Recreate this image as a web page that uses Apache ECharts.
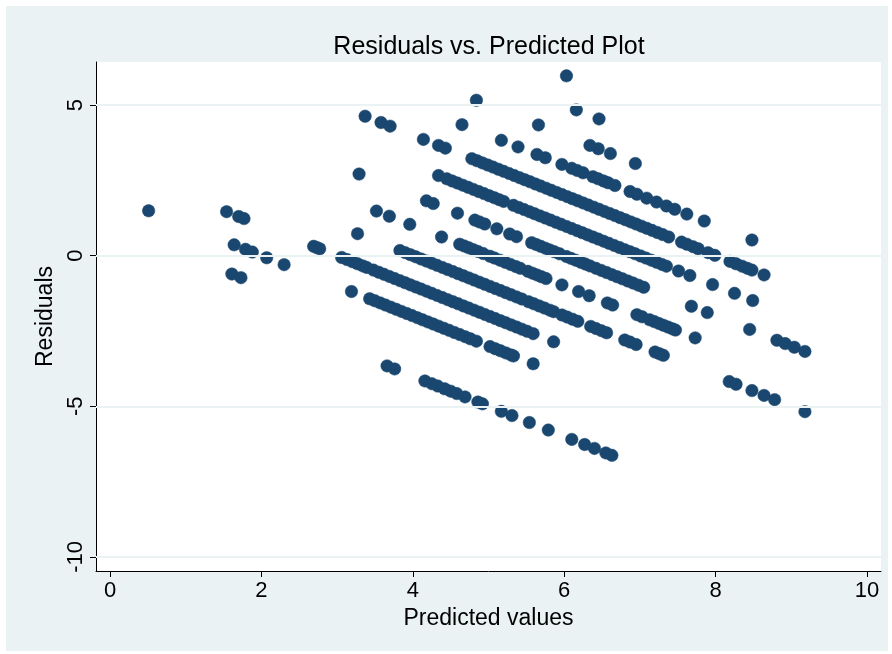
<!DOCTYPE html>
<html>
<head>
<meta charset="utf-8">
<script src="https://cdn.jsdelivr.net/npm/echarts@6/dist/echarts.min.js"></script>
<style>
  html, body { margin: 0; padding: 0; background: #ffffff; }
  #chart { width: 892px; height: 654px; }
</style>
</head>
<body>
<div id="chart"></div>
<script>
// ---- Data: [predicted value, residual] ----
const line0 = [[3.66,-3.66],[3.76,-3.76],[4.16,-4.16],[4.25,-4.25],[4.33,-4.33],[4.42,-4.42],[4.50,-4.50],[4.58,-4.58],[4.69,-4.69],[4.86,-4.86],[4.92,-4.92],[5.17,-5.17],[5.31,-5.31],[5.54,-5.54],[5.79,-5.79],[6.10,-6.10],[6.27,-6.27],[6.40,-6.40],[6.55,-6.55],[6.63,-6.63]];
const line1 = [[1.61,-0.61],[1.73,-0.73]];
const line2 = [[0.51,1.49],[1.64,0.36],[1.79,0.21],[1.88,0.12],[2.07,-0.07],[2.30,-0.30],[3.19,-1.19],
  [3.43,-1.43],[3.50,-1.50],[3.57,-1.57],[3.64,-1.64],[3.71,-1.71],[3.78,-1.78],[3.85,-1.85],[3.92,-1.92],[3.99,-1.99],[4.06,-2.06],[4.13,-2.13],[4.20,-2.20],[4.27,-2.27],[4.34,-2.34],[4.41,-2.41],[4.48,-2.48],[4.55,-2.55],[4.62,-2.62],[4.69,-2.69],[4.76,-2.76],[4.84,-2.84],
  [5.02,-3.02],[5.09,-3.09],[5.16,-3.16],[5.23,-3.23],[5.30,-3.30],[5.33,-3.33],[5.59,-3.59]];
const line3 = [[1.54,1.46],[1.70,1.30],[1.77,1.23],[2.69,0.31],[2.73,0.27],[2.77,0.23],
  [3.06,-0.06],[3.13,-0.13],[3.20,-0.20],[3.27,-0.27],[3.34,-0.34],[3.39,-0.39],
  [3.48,-0.48],[3.55,-0.55],[3.62,-0.62],[3.69,-0.69],[3.76,-0.76],[3.83,-0.83],[3.90,-0.90],[3.97,-0.97],[4.04,-1.04],[4.11,-1.11],[4.18,-1.18],[4.25,-1.25],[4.32,-1.32],[4.39,-1.39],[4.46,-1.46],[4.53,-1.53],[4.60,-1.60],[4.67,-1.67],[4.74,-1.74],[4.81,-1.81],[4.88,-1.88],[4.95,-1.95],[5.02,-2.02],[5.09,-2.09],[5.16,-2.16],[5.23,-2.23],[5.30,-2.30],[5.37,-2.37],[5.44,-2.44],[5.51,-2.51],[5.59,-2.59],
  [5.86,-2.86]];
const line4 = [[3.27,0.73],
  [3.83,0.17],[3.90,0.10],[3.97,0.03],[4.04,-0.04],[4.11,-0.11],[4.18,-0.18],[4.25,-0.25],[4.32,-0.32],[4.39,-0.39],[4.46,-0.46],[4.53,-0.53],[4.60,-0.60],[4.67,-0.67],[4.74,-0.74],[4.81,-0.81],[4.88,-0.88],[4.95,-0.95],[5.02,-1.02],[5.09,-1.09],[5.16,-1.16],[5.23,-1.23],[5.30,-1.30],[5.37,-1.37],[5.44,-1.44],
  [5.53,-1.53],[5.60,-1.60],[5.67,-1.67],[5.74,-1.74],[5.81,-1.81],[5.86,-1.86],
  [5.97,-1.97],[6.04,-2.04],[6.11,-2.11],[6.18,-2.18],
  [6.35,-2.35],[6.42,-2.42],[6.49,-2.49],[6.56,-2.56],
  [6.80,-2.80],[6.87,-2.87],[6.95,-2.95],
  [7.20,-3.20],[7.26,-3.26],[7.31,-3.31],
  [8.18,-4.18],[8.27,-4.27],[8.48,-4.48],[8.64,-4.64],[8.78,-4.78],[9.18,-5.18]];
const line5 = [[3.52,1.48],[3.69,1.31],[3.96,1.04],[4.38,0.62],
  [4.62,0.38],[4.68,0.32],[4.74,0.26],[4.80,0.20],[4.86,0.14],[4.93,0.07],
  [5.02,-0.02],[5.08,-0.08],[5.15,-0.15],[5.22,-0.22],[5.29,-0.29],[5.36,-0.36],[5.42,-0.42],
  [5.52,-0.52],[5.58,-0.58],[5.64,-0.64],[5.70,-0.70],[5.76,-0.76],
  [5.97,-0.97],[6.19,-1.19],[6.33,-1.33],[6.57,-1.57],[6.64,-1.64],[6.96,-1.96],[7.03,-2.03],
  [7.13,-2.13],[7.19,-2.19],[7.25,-2.25],[7.31,-2.31],[7.37,-2.37],[7.43,-2.43],[7.47,-2.47],
  [7.73,-2.73]];
const line6 = [[3.29,2.71],[4.18,1.82],[4.27,1.73],[4.59,1.41],[4.82,1.18],[4.88,1.12],[4.95,1.05],[5.11,0.89],[5.28,0.72],[5.37,0.63],
  [5.57,0.43],[5.63,0.37],[5.69,0.31],[5.75,0.25],[5.81,0.19],[5.87,0.13],[5.94,0.06],
  [6.03,-0.03],[6.09,-0.09],[6.15,-0.15],[6.22,-0.22],[6.28,-0.28],[6.34,-0.34],
  [6.42,-0.42],[6.49,-0.49],[6.56,-0.56],[6.63,-0.63],[6.70,-0.70],[6.77,-0.77],[6.84,-0.84],[6.91,-0.91],[6.98,-0.98],[7.05,-1.05],
  [7.68,-1.68],[7.89,-1.89],[8.45,-2.45],[8.81,-2.81],[8.92,-2.92],[9.04,-3.04],[9.18,-3.18]];
const line7 = [[4.34,2.66],
  [4.45,2.55],[4.52,2.48],[4.59,2.41],[4.66,2.34],[4.73,2.27],[4.80,2.20],[4.87,2.13],[4.94,2.06],[5.01,1.99],[5.08,1.92],[5.14,1.86],[5.20,1.80],
  [5.33,1.67],[5.40,1.60],[5.47,1.53],[5.54,1.46],[5.61,1.39],[5.68,1.32],[5.75,1.25],[5.82,1.18],[5.89,1.11],[5.96,1.04],[6.03,0.97],[6.10,0.90],[6.17,0.83],[6.24,0.76],[6.31,0.69],[6.38,0.62],[6.45,0.55],[6.52,0.48],[6.59,0.41],[6.66,0.34],[6.73,0.27],[6.80,0.20],[6.87,0.13],[6.94,0.06],[7.01,-0.01],[7.08,-0.08],[7.15,-0.15],[7.22,-0.22],[7.29,-0.29],[7.35,-0.35],
  [7.51,-0.51],[7.66,-0.66],[7.96,-0.96],[8.25,-1.25],[8.49,-1.49]];
const line8 = [[3.37,4.63],[3.58,4.42],[3.70,4.30],[4.14,3.86],[4.34,3.66],[4.43,3.57],
  [4.78,3.22],[4.85,3.15],[4.92,3.08],[4.99,3.01],[5.06,2.94],[5.13,2.87],[5.20,2.80],[5.27,2.73],[5.34,2.66],[5.41,2.59],[5.48,2.52],[5.55,2.45],[5.62,2.38],[5.69,2.31],[5.76,2.24],[5.83,2.17],[5.90,2.10],[5.97,2.03],[6.04,1.96],[6.11,1.89],[6.18,1.82],[6.25,1.75],[6.32,1.68],[6.39,1.61],[6.46,1.54],[6.53,1.47],[6.60,1.40],[6.67,1.33],[6.74,1.26],[6.81,1.19],[6.88,1.12],[6.95,1.05],[7.02,0.98],[7.09,0.91],[7.16,0.84],[7.23,0.77],[7.30,0.70],[7.38,0.62],
  [7.55,0.45],[7.62,0.38],[7.70,0.30],[7.77,0.23],[7.90,0.10],[7.99,0.01],[8.19,-0.19],[8.27,-0.27],[8.35,-0.35],[8.42,-0.42],[8.48,-0.48],[8.64,-0.64]];
const line9 = [[4.65,4.35],[5.17,3.83],[5.39,3.61],[5.64,3.36],[5.75,3.25],[5.97,3.03],[6.10,2.90],[6.17,2.83],[6.25,2.75],[6.38,2.62],[6.45,2.55],[6.52,2.48],[6.58,2.42],[6.67,2.33],[6.87,2.13],[6.96,2.04],[7.09,1.91],[7.22,1.78],[7.35,1.65],[7.46,1.54],[7.62,1.38],[7.85,1.15],[8.48,0.52]];
const line10 = [[4.84,5.16],[5.66,4.34],[6.34,3.66],[6.45,3.55],[6.61,3.39],[6.94,3.06]];
const line11 = [[6.16,4.84],[6.46,4.54]];
const line12 = [[6.03,5.97]];

const xTicks = [0, 2, 4, 6, 8, 10];
const yTicks = [-10, -5, 0, 5];

const titleText = 'Residuals vs. Predicted Plot';
const xTitle = 'Predicted values';
const yTitle = 'Residuals';

// ---- Chart ----
const points = [].concat(line0, line1, line2, line3, line4, line5, line6, line7, line8, line9, line10, line11, line12);
const FONT = 'Liberation Sans, Arial, Helvetica, sans-serif';
const PANEL = '#EAF2F3';
const NAVY = '#1A476F';

const chart = echarts.init(document.getElementById('chart'), null, { renderer: 'canvas' });
chart.setOption({
  animation: false,
  backgroundColor: '#ffffff',
  graphic: [{
    type: 'rect', z: -100, silent: true,
    shape: { x: 6, y: 6, width: 882, height: 645 },
    style: { fill: PANEL }
  }],
  title: {
    text: titleText,
    left: 484, top: 30, textAlign: 'center',
    textStyle: { fontFamily: FONT, fontSize: 25, fontWeight: 'normal', color: '#000' }
  },
  grid: {
    left: 96, top: 62, width: 785, height: 509,
    show: true, backgroundColor: '#ffffff', borderWidth: 0
  },
  xAxis: {
    type: 'value', min: -0.185, max: 10.185,
    name: xTitle, nameLocation: 'middle', nameGap: 36,
    nameTextStyle: { fontFamily: FONT, fontSize: 23, color: '#000' },
    axisLine: { show: true, onZero: false, lineStyle: { color: '#000', width: 1 } },
    axisTick: { show: true, length: 6, customValues: xTicks, lineStyle: { color: '#000' } },
    axisLabel: { customValues: xTicks, margin: 9, fontFamily: FONT, fontSize: 22, color: '#000' },
    splitLine: { show: false }
  },
  yAxis: {
    type: 'value', min: -10.47, max: 6.43,
    name: yTitle, nameLocation: 'middle', nameGap: 38,
    nameTextStyle: { fontFamily: FONT, fontSize: 23, color: '#000' },
    axisLine: { show: true, onZero: false, lineStyle: { color: '#000', width: 1 } },
    axisTick: { show: true, length: 6, customValues: yTicks, lineStyle: { color: '#000' } },
    axisLabel: { customValues: yTicks, rotate: 90, margin: 9, fontFamily: FONT, fontSize: 22, color: '#000' },
    splitLine: { show: false }
  },
  series: [
    {
      type: 'line', data: [], z: 1, silent: true,
      markLine: {
        silent: true, symbol: 'none', animation: false,
        label: { show: false },
        lineStyle: { color: PANEL, width: 2, type: 'solid' },
        data: yTicks.map(v => ({ yAxis: v }))
      }
    },
    {
      type: 'scatter', z: 3, data: points,
      symbol: 'circle', symbolSize: 12.5,
      itemStyle: { color: NAVY, opacity: 1, borderColor: NAVY, borderWidth: 0.5 }
    }
  ]
});
</script>
</body>
</html>
